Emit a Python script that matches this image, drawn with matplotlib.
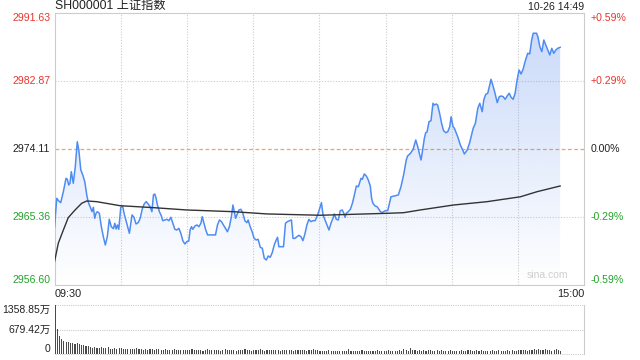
import numpy as np
import matplotlib.pyplot as plt
from matplotlib.colors import to_rgb

plt.rcParams['font.family'] = ['Liberation Sans', 'Noto Sans CJK SC', 'DejaVu Sans']

title = 'SH000001 上证指数'
stamp = '10-26 14:49'
prev_close = 2974.11
price_ticks = [2956.60, 2965.36, 2974.11, 2982.87, 2991.63]
pct_labels = ['-0.59%', '-0.29%', '0.00%', '+0.29%', '+0.59%']
vol_ticks = [0, 679.42, 1358.85]
vol_labels = ['0', '679.42万', '1358.85万']
time_labels = ['09:30', '15:00']

# minutes since 09:30 (trading time, 240 = 15:00) and index level
price_t = [
    0, 1.0, 1.9, 2.8, 4.0, 5.2, 5.8, 6.4, 7.0, 7.6, 8.5, 9.4, 10.3, 11.0, 11.9, 12.8,
    13.7, 14.6, 15.2, 15.8, 16.4, 17.0, 17.6, 18.2, 18.8, 19.4, 20.3, 21.2, 22.1, 23.0,
    23.9, 24.8, 25.7, 26.7, 27.3, 27.9, 28.5, 29.1, 30.0, 30.9,
    31.5, 32.7, 33.9, 35.1, 36.0, 36.9, 37.9, 38.8, 39.7, 40.6, 41.5, 42.4, 43.3, 44.1,
    44.8, 45.4, 46.0, 46.6, 47.5, 48.4, 49.0, 50.0, 50.9, 51.8, 52.7, 53.6, 54.5, 55.4,
    56.3, 57.2, 58.1, 59.0, 59.9, 60.8,
    61.4, 62.0, 62.6, 63.6, 64.5, 65.4, 66.3, 66.9, 67.5, 68.4, 69.3, 70.5, 72.0, 72.9,
    73.8, 74.7, 75.6, 76.5, 77.4, 78.3, 79.2, 80.1, 80.8, 81.4, 82.0, 82.6, 83.5, 84.4,
    85.3, 86.2, 87.1, 87.7, 88.6, 89.5, 90.4, 91.3,
    92.2, 93.2, 94.1, 95.0, 95.9, 96.8, 97.7, 98.6, 99.5, 100.4, 101.0, 101.6, 102.5,
    103.7, 104.6, 105.5, 106.4, 107.3, 108.0, 108.9, 109.8, 110.7, 111.6, 112.5, 113.4,
    114.3, 115.2, 116.1, 117.0, 118.0, 118.5, 119.4, 120.2, 120.9, 121.6,
    122.5, 123.4, 124.3, 125.2, 126.1, 126.7, 127.6, 128.5, 129.4, 130.3, 130.9, 131.6,
    132.1, 133.0, 134.0, 134.9, 135.8, 136.7, 137.6, 138.2, 138.8, 139.4, 140.3, 141.2,
    142.1, 143.0, 143.6, 144.2, 145.2, 146.1, 146.6, 147.6, 148.5, 149.0, 149.9, 150.9,
    152.4, 153.9, 155.7, 156.9, 158.1, 159.3, 159.9, 161.2, 162.4, 163.6, 164.5, 165.4,
    166.0, 166.6, 167.5, 168.1, 168.7, 169.6, 170.5, 171.4, 172.0, 172.9, 173.5, 174.4,
    175.3, 176.2, 177.2, 178.1, 179.0, 179.6, 180.5, 181.1,
    182.6, 183.8, 185.0, 185.6, 186.9, 188.0, 189.6, 190.6, 191.7, 192.6, 193.7, 194.4,
    195.3, 196.2, 197.1, 197.7, 198.6, 199.5, 200.5, 201.4, 202.3, 203.2, 204.1, 205.0,
    205.9, 206.8, 207.7, 208.6, 209.5, 210.4, 211.3, 212.2, 213.1,
    214.3, 215.2, 216.1, 216.8, 218.3, 218.9, 219.8, 220.7, 221.6, 222.5, 223.4, 224.3,
    225.2, 226.1, 227.0, 227.9, 229.0,
]
price = [
    2964.07, 2967.80, 2967.46, 2967.24, 2968.66, 2970.38, 2970.25, 2969.52, 2969.74,
    2971.23, 2969.74, 2971.87, 2975.09, 2974.02, 2971.45, 2970.80, 2969.94, 2968.23,
    2967.37, 2966.94, 2966.52, 2966.08, 2966.65, 2965.23, 2965.87, 2966.08, 2965.87,
    2964.15, 2962.86, 2961.79, 2962.86, 2965.10, 2964.15, 2963.89, 2964.59, 2963.85,
    2964.37, 2963.81, 2966.65, 2966.73,
    2965.87, 2964.59, 2963.30, 2965.66, 2965.36, 2964.50, 2964.67, 2965.23, 2966.39,
    2967.07, 2967.37, 2967.07, 2966.72, 2966.08, 2968.23, 2968.36, 2967.80, 2966.94,
    2966.08, 2965.53, 2964.92, 2965.01, 2965.10, 2964.92, 2965.36, 2964.59, 2963.81,
    2963.72, 2963.94, 2963.30, 2962.35, 2961.92, 2962.22, 2962.30,
    2963.72, 2964.15, 2963.81, 2964.24, 2964.37, 2964.15, 2964.59, 2965.44, 2964.80,
    2963.81, 2963.09, 2963.09, 2963.09, 2963.09, 2964.37, 2965.01, 2964.80, 2964.37,
    2963.94, 2963.50, 2964.15, 2965.44, 2966.94, 2966.08, 2965.23, 2965.66, 2966.30,
    2966.39, 2965.87, 2964.92, 2964.67, 2965.01, 2964.15, 2963.50, 2962.65, 2962.44,
    2962.52, 2961.49, 2961.37, 2960.08, 2959.86, 2960.38, 2960.21, 2960.80, 2961.79,
    2962.44, 2962.78, 2961.57, 2961.57, 2961.57, 2964.59, 2964.80, 2964.92, 2965.01,
    2962.65, 2962.65, 2962.86, 2963.04, 2962.86, 2962.35, 2963.21, 2964.37, 2965.10,
    2964.80, 2964.92, 2964.92, 2965.23, 2965.87, 2966.60, 2967.24, 2965.66,
    2965.01, 2964.37, 2963.72, 2964.59, 2965.23, 2965.79, 2965.10, 2965.01, 2966.21,
    2966.30, 2965.96, 2965.36, 2965.87, 2966.08, 2966.39, 2967.16, 2968.23, 2969.39,
    2969.30, 2969.82, 2970.38, 2970.25, 2970.94, 2970.68, 2970.16, 2969.39, 2967.80,
    2967.16, 2966.81, 2966.72, 2966.52, 2966.08, 2965.96, 2966.08, 2966.21, 2966.21,
    2968.00, 2968.10, 2968.23, 2969.30, 2970.81, 2972.74, 2973.25, 2973.60, 2974.11,
    2975.31, 2974.45, 2973.38, 2972.74, 2973.81, 2975.53, 2976.25, 2976.34, 2977.67,
    2977.80, 2980.04, 2979.82, 2979.95, 2979.82, 2978.75, 2977.46, 2976.51, 2976.25,
    2976.38, 2977.02, 2978.31, 2977.02, 2976.82,
    2975.74, 2974.67, 2973.94, 2973.51, 2974.02, 2974.96, 2976.82, 2977.46, 2979.40,
    2980.04, 2978.96, 2980.47, 2981.20, 2981.33, 2982.40, 2983.13, 2982.27, 2981.33,
    2980.12, 2980.89, 2980.98, 2980.89, 2980.55, 2980.98, 2981.33, 2980.81, 2980.55,
    2981.33, 2983.04, 2984.33, 2983.81, 2984.42, 2985.40,
    2986.48, 2986.39, 2988.19, 2989.06, 2989.06, 2988.62, 2987.33, 2986.69, 2988.19,
    2987.55, 2986.90, 2986.26, 2987.12, 2986.48, 2986.90, 2987.12, 2987.25,
]

avg_t = [0, 1.7, 4.0, 6.2, 9.3, 12.3, 14.6, 19.1, 25.2, 29.7, 44.8, 59.9, 81.0, 96.2,
         120.4, 150.6, 158.1, 165.6, 180.7, 195.9, 211.0, 218.6, 229.0]
avg = [2959.64, 2962.01, 2963.72, 2965.31, 2966.30, 2967.16, 2967.46, 2967.37, 2967.07,
       2966.85, 2966.60, 2966.30, 2966.08, 2965.79, 2965.62, 2965.87, 2965.95, 2966.30,
       2966.94, 2967.37, 2968.00, 2968.66, 2969.39]

# volume per minute, in 万
volume = [
    1358, 690, 505, 415, 370, 350, 340, 305, 325, 285,
    320, 290, 245, 250, 240, 225, 215, 185, 200, 180,
    175, 195, 170, 165, 190, 160, 150, 170, 155, 180,
    165, 150, 160, 140, 135, 150, 140, 165, 150, 135,
    130, 145, 120, 155, 140, 125, 135, 150, 130, 120,
    140, 125, 115, 130, 135, 120, 110, 125, 120, 130,
    115, 125, 140, 110, 120, 130, 115, 105, 120, 135,
    120, 110, 130, 125, 115, 105, 120, 135, 125, 110,
    115, 125, 105, 120, 130, 110, 140, 125, 115, 105,
    120, 110, 125, 135, 115, 105, 120, 115, 130, 110,
    125, 115, 105, 120, 110, 130, 120, 115, 105, 125,
    110, 120, 130, 115, 105, 125, 115, 135, 120, 130,
    95, 90, 100, 85, 110, 95, 85, 80, 95, 90,
    105, 85, 100, 150, 105, 90, 95, 85, 100, 110,
    90, 95, 105, 85, 100, 90, 110, 95, 85, 105,
    100, 115, 95, 105, 90, 100, 110, 95, 135, 120,
    105, 185, 125, 110, 95, 115, 105, 130, 100, 110,
    120, 95, 105, 125, 100, 110, 90, 105, 95, 115,
    100, 90, 105, 95, 110, 85, 100, 125, 110, 95,
    105, 120, 100, 110, 95, 105, 90, 100, 115, 105,
    95, 110, 100, 90, 105, 115, 100, 110, 95, 105,
    120, 110, 125, 115, 105, 130, 115, 135, 110, 140,
    125, 110, 135, 115, 130, 105, 120, 135, 110, 100,
]

RED = '#e8352e'
GREEN = '#22a22a'
GRID = '#cccccc'


def level_color(v):
    if v > prev_close + 0.01:
        return RED
    if v < prev_close - 0.01:
        return GREEN
    return '#222222'


def edge_va(i, n):
    if i == 0:
        return 'bottom'
    if i == n - 1:
        return 'top'
    return 'center'


fig = plt.figure(figsize=(6.4, 3.6), dpi=100)
ax = fig.add_axes([0.0852, 0.2075, 0.828, 0.7556])
vax = fig.add_axes([0.0852, 0.0158, 0.828, 0.137])

ymin, ymax = price_ticks[0], price_ticks[-1]

# gradient fill under the price line
grad = np.zeros((256, 1, 4))
grad[..., :3] = to_rgb('#5a8cee')
grad[:, 0, 3] = np.linspace(0.34, 0.0, 256)
img = ax.imshow(grad, extent=[0, 240, ymin, ymax], aspect='auto', origin='upper', zorder=1)
poly = ax.fill_between(price_t, price, ymin, facecolor='none', edgecolor='none')
img.set_clip_path(poly.get_paths()[0], transform=ax.transData)

for x in range(30, 240, 30):
    ax.axvline(x, color=GRID, ls=(0, (1, 1.5)), lw=0.8, zorder=0)
for v in price_ticks[1:-1]:
    if v == prev_close:
        ax.axhline(v, color='#f3a06e', ls=(0, (3, 2)), lw=0.9, zorder=0)
    else:
        ax.axhline(v, color=GRID, ls=(0, (1, 1.5)), lw=0.8, zorder=0)

ax.plot(price_t, price, color='#4f8cf2', lw=1.1, zorder=3)
ax.plot(avg_t, avg, color='#333333', lw=1.0, zorder=3)

ax.set_xlim(0, 240)
ax.set_ylim(ymin, ymax)
ax.set_xticks([])
ax.set_yticks([])
for s in ax.spines.values():
    s.set_color(GRID)

ytr = ax.get_yaxis_transform()
for i, (v, p) in enumerate(zip(price_ticks, pct_labels)):
    va = edge_va(i, len(price_ticks))
    c = level_color(v)
    ax.text(-0.008, v, f'{v:.2f}', transform=ytr, ha='right', va=va, color=c, fontsize=7.6)
    ax.text(1.011, v, p, transform=ytr, ha='left', va=va, color=c, fontsize=7.6)

ax.text(0, 1.004, title, transform=ax.transAxes, ha='left', va='bottom', fontsize=8.8, color='#222')
ax.text(1, 1.006, stamp, transform=ax.transAxes, ha='right', va='bottom', fontsize=7.6, color='#222')
ax.text(0, -0.012, time_labels[0], transform=ax.transAxes, ha='left', va='top', fontsize=7.8, color='#222')
ax.text(1, -0.012, time_labels[1], transform=ax.transAxes, ha='right', va='top', fontsize=7.8, color='#222')
ax.text(0.97, 0.02, 'sina.com', transform=ax.transAxes, ha='right', va='bottom', fontsize=7.5, color='#cfcfcf')

# volume panel
vax.bar(range(len(volume)), volume, width=0.5, color='#4a4a4a', align='edge')
vax.set_xlim(0, 240)
vax.set_ylim(0, vol_ticks[-1])
vax.set_xticks([])
vax.set_yticks([])
for k in ['left', 'top', 'bottom']:
    vax.spines[k].set_visible(False)
vax.spines['right'].set_color(GRID)
for v in vol_ticks:
    vax.axhline(v, color=GRID, ls=(0, (1, 1)), lw=0.8, zorder=0, clip_on=False)
for i, (v, lab) in enumerate(zip(vol_ticks, vol_labels)):
    vax.text(-0.008, v, lab, transform=vax.get_yaxis_transform(), ha='right',
             va=edge_va(i, len(vol_ticks)), fontsize=7.5, color='#222')

fig.savefig('out.png', dpi=100)
